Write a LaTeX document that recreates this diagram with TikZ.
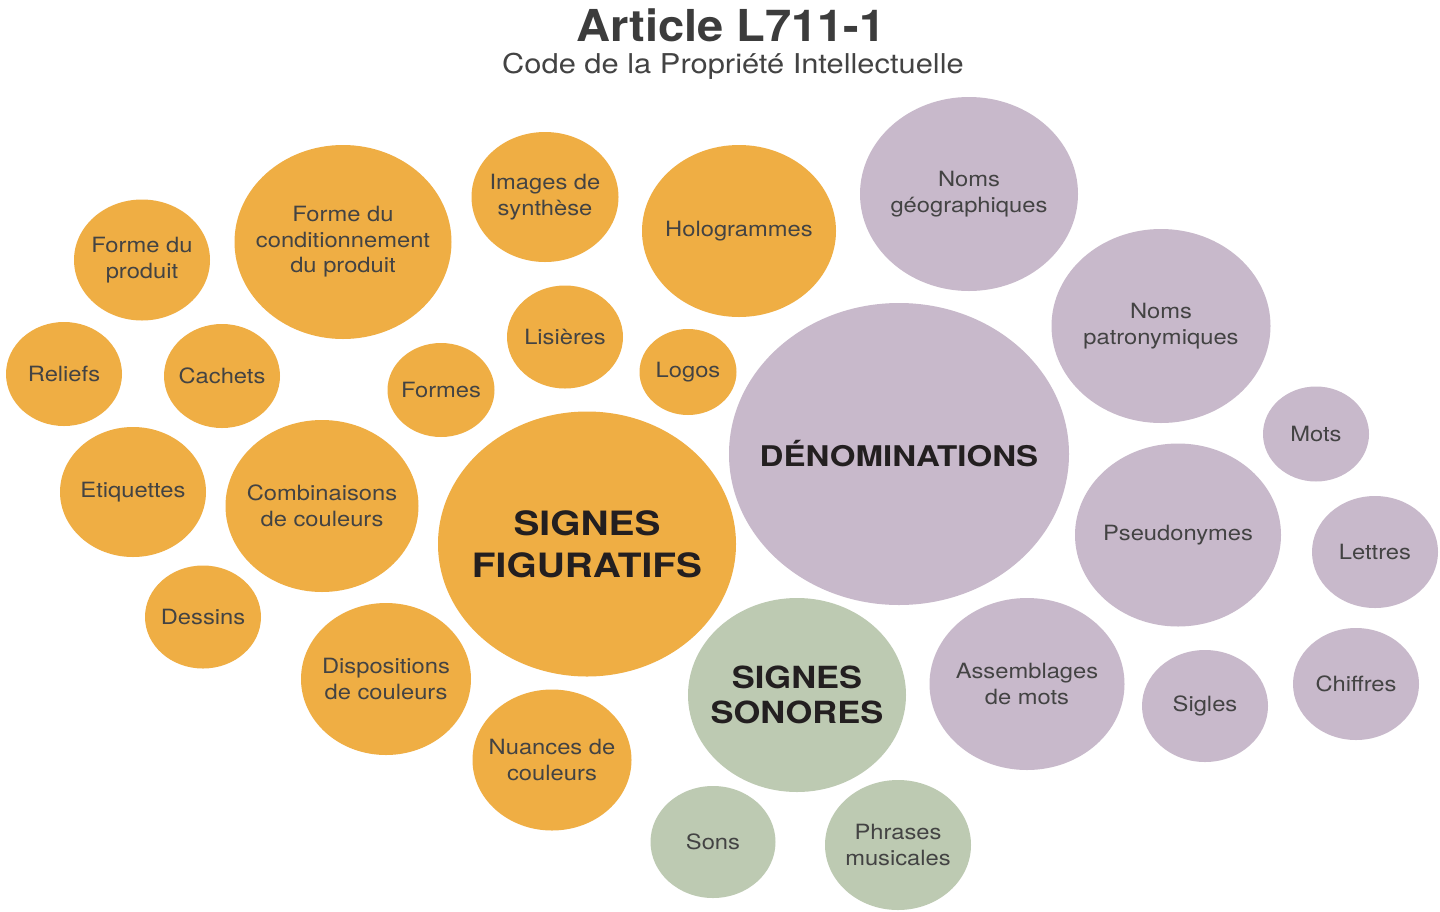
\documentclass[tikz,border=0pt]{standalone}
\usepackage{fontspec}
\setmainfont{TeX Gyre Heros}
\newfontfamily\bubfont[FakeStretch=1.13]{TeX Gyre Heros}
\newfontfamily\bigfont[FakeStretch=1.16]{TeX Gyre Heros}
\newfontfamily\titfont[FakeStretch=1.07]{TeX Gyre Heros}
\usetikzlibrary{shapes.geometric}
\definecolor{orng}{HTML}{EFAE44}
\definecolor{purp}{HTML}{C8B9CB}
\definecolor{sage}{HTML}{BDCAB2}
\definecolor{txtgray}{HTML}{434343}
\definecolor{txtdark}{HTML}{231F20}
\definecolor{titgray}{HTML}{3C3C3C}
\tikzset{
  bubble/.style={ellipse, inner sep=0pt, draw=none},
  bubtext/.style={align=center, inner sep=0pt, text=txtgray,
    font=\bubfont\fontsize{21}{25.5}\selectfont},
  bigtext/.style={align=center, inner sep=0pt, text=txtdark},
}
% name, x, y, width, height, colour, text
\newcommand\bub[7]{%
  \node[bubble, fill=#6, minimum width=#4pt, minimum height=#5pt] (#1) at (#2,#3) {};
  \node[bubtext] (#1-t) at (#1) {#7};}
\begin{document}
\begin{tikzpicture}[x=1pt,y=-1pt]
\useasboundingbox (0,0) rectangle (1440,911);
\fill[white] (0,0) rectangle (1440,911);

% title
\node[anchor=base, text=titgray, font=\titfont\bfseries\fontsize{44}{50}\selectfont] (title) at (731,41) {Article L711-1};
\node[anchor=base, text=txtgray, font=\bubfont\fontsize{27.3}{32}\selectfont] (sub) at (733,73) {Code de la Propriété Intellectuelle};

% orange bubbles
\bub{fp}{142}{260}{136}{121}{orng}{Forme du\\produit}
\bub{fc}{343}{242}{217}{194}{orng}{Forme du\\conditionnement\\du produit}
\bub{re}{64}{374}{116}{104}{orng}{Reliefs}
\bub{ca}{222}{376}{116}{104}{orng}{Cachets}
\bub{fo}{441}{390}{107}{94}{orng}{Formes}
\bub{im}{545}{197}{147}{130}{orng}{Images de\\synthèse}
\bub{ho}{739}{231}{194}{172}{orng}{Hologrammes}
\bub{li}{565}{337}{116}{103}{orng}{Lisières}
\bub{lo}{688}{372}{97}{86}{orng}{Logos}
\bub{et}{133}{492}{146}{130}{orng}{Etiquettes}
\bub{co}{322}{506}{193}{172}{orng}{Combinaisons\\de couleurs}
\bub{de}{203}{617}{116}{103}{orng}{Dessins}
\bub{di}{386}{679}{170}{152}{orng}{Dispositions\\de couleurs}
\bub{nu}{552}{760}{159}{141}{orng}{Nuances de\\couleurs}
\node[bubble, fill=orng, minimum width=298pt, minimum height=265pt] (sf) at (587,544) {};
\node[bigtext, font=\bigfont\bfseries\fontsize{33.5}{42}\selectfont] (sf-t) at (sf) {SIGNES\\FIGURATIFS};

% purple bubbles
\bub{ng}{969}{194}{218}{194}{purp}{Noms\\géographiques}
\bub{np}{1161}{326}{219}{194}{purp}{Noms\\patronymiques}
\bub{mo}{1316}{434}{106}{95}{purp}{Mots}
\bub{ps}{1178}{535}{206}{183}{purp}{Pseudonymes}
\bub{le}{1375}{552}{126}{112}{purp}{Lettres}
\bub{ch}{1356}{684}{126}{112}{purp}{Chiffres}
\bub{si}{1205}{706}{126}{112}{purp}{Sigles}
\bub{as}{1027}{684}{195}{172}{purp}{Assemblages\\de mots}
\node[bubble, fill=purp, minimum width=340pt, minimum height=302pt] (dn) at (899,454) {};
\node[bigtext, font=\bigfont\bfseries\fontsize{28.5}{32}\selectfont] (dn-t) at (dn) {DÉNOMINATIONS};

% green bubbles
\bub{so}{713}{842}{125}{112}{sage}{Sons}
\bub{ph}{898}{845}{146}{130}{sage}{Phrases\\musicales}
\node[bubble, fill=sage, minimum width=218pt, minimum height=194pt] (ss) at (797,695) {};
\node[bigtext, font=\bubfont\bfseries\fontsize{30.5}{35.5}\selectfont] (ss-t) at (ss) {SIGNES\\SONORES};
\end{tikzpicture}
\end{document}
